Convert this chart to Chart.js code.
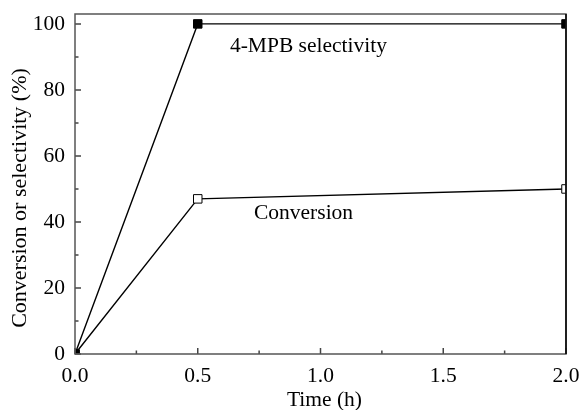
<!DOCTYPE html>
<html>
<head>
<meta charset="utf-8">
<script src="https://cdn.jsdelivr.net/npm/chart.js@4/dist/chart.umd.min.js"></script>
<style>
  html, body { margin: 0; padding: 0; background: #fff; }
  #wrap { width: 581px; height: 410px; }
</style>
</head>
<body>
<div id="wrap"><canvas id="c" width="581" height="410"></canvas></div>
<script>
// ---- data ----
const timeH = [0, 0.5, 2.0];
const selectivity = [0, 100, 100];
const conversion = [0, 47, 50];
const xTickValues = [0, 0.5, 1.0, 1.5, 2.0];
const yTickValues = [0, 20, 40, 60, 80, 100];
const seriesLabels = ['4-MPB selectivity', 'Conversion'];
const xTitle = 'Time (h)';
const yTitle = 'Conversion or selectivity (%)';

const FONT = "'Liberation Serif', 'Times New Roman', serif";

const pts = (ys) => timeH.map((x, i) => ({ x: x, y: ys[i] }));

const annotations = [
  { text: seriesLabels[0], x: 0.631, y: 91.4 },
  { text: seriesLabels[1], x: 0.729, y: 40.8 }
];

const frameAndTicks = {
  id: 'frameAndTicks',
  afterDatasetsDraw(chart) {
    const { ctx, chartArea: a, scales } = chart;
    const xs = scales.x, ys = scales.y;
    ctx.save();
    ctx.strokeStyle = '#444';
    ctx.lineWidth = 1.5;
    ctx.beginPath();
    xTickValues.forEach((v, i) => {
      const px = xs.getPixelForValue(v);
      ctx.moveTo(px, a.bottom); ctx.lineTo(px, a.bottom - 6);
      if (i < xTickValues.length - 1) {
        const mx = xs.getPixelForValue((v + xTickValues[i + 1]) / 2);
        ctx.moveTo(mx, a.bottom); ctx.lineTo(mx, a.bottom - 3.5);
      }
    });
    yTickValues.forEach((v, i) => {
      const py = ys.getPixelForValue(v);
      ctx.moveTo(a.left, py); ctx.lineTo(a.left + 6, py);
      if (i < yTickValues.length - 1) {
        const my = ys.getPixelForValue((v + yTickValues[i + 1]) / 2);
        ctx.moveTo(a.left, my); ctx.lineTo(a.left + 3.5, my);
      }
    });
    ctx.stroke();
    ctx.strokeStyle = '#555';
    ctx.strokeRect(a.left, a.top, a.right - a.left, a.bottom - a.top);
    ctx.strokeStyle = '#000';
    ctx.beginPath();
    ctx.moveTo(a.right, a.top); ctx.lineTo(a.right, a.bottom);
    ctx.stroke();
    ctx.fillStyle = '#000';
    ctx.font = '21.5px ' + FONT;
    ctx.textAlign = 'left';
    ctx.textBaseline = 'alphabetic';
    annotations.forEach(an => {
      ctx.fillText(an.text, xs.getPixelForValue(an.x), ys.getPixelForValue(an.y));
    });
    // axis titles
    ctx.textAlign = 'center';
    ctx.fillText(xTitle, (a.left + a.right) / 2 + 4, 406);
    ctx.font = '22px ' + FONT;
    ctx.translate(26, (a.top + a.bottom) / 2 + 14);
    ctx.rotate(-Math.PI / 2);
    ctx.fillText(yTitle, 0, 0);
    ctx.restore();
  }
};

new Chart(document.getElementById('c'), {
  type: 'line',
  data: {
    datasets: [
      {
        label: seriesLabels[0],
        data: pts(selectivity),
        borderColor: '#000',
        borderWidth: 1.4,
        backgroundColor: '#000',
        pointStyle: 'rect',
        pointRadius: 6,
        pointBorderWidth: 1,
        pointBorderColor: '#000',
        pointBackgroundColor: '#000',
        tension: 0,
        clip: 0
      },
      {
        label: seriesLabels[1],
        data: pts(conversion),
        borderColor: '#000',
        borderWidth: 1.4,
        backgroundColor: '#fff',
        pointStyle: 'rect',
        pointRadius: 6,
        pointBorderWidth: 1,
        pointBorderColor: '#000',
        pointBackgroundColor: '#fff',
        tension: 0,
        clip: 0
      }
    ]
  },
  options: {
    responsive: false,
    animation: false,
    devicePixelRatio: 1,
    layout: { padding: { top: 14, right: 15, left: 0, bottom: 0 } },
    plugins: {
      legend: { display: false },
      tooltip: { enabled: false }
    },
    scales: {
      x: {
        type: 'linear',
        min: 0, max: 2,
        afterBuildTicks: (s) => { s.ticks = xTickValues.map(v => ({ value: v })); },
        afterFit: (s) => { s.height = 56; s.paddingLeft = 0; s.paddingRight = 0; },
        grid: { display: false, drawTicks: false },
        border: { display: false },
        ticks: {
          color: '#000',
          font: { family: FONT, size: 21.5 },
          padding: 9,
          maxRotation: 0,
          callback: (v) => Number(v).toFixed(1)
        },
        title: { display: false, text: xTitle }
      },
      y: {
        type: 'linear',
        min: 0, max: 103,
        afterBuildTicks: (s) => { s.ticks = yTickValues.map(v => ({ value: v })); },
        afterFit: (s) => { s.width = 75; s.paddingTop = 0; s.paddingBottom = 0; },
        grid: { display: false, drawTicks: false },
        border: { display: false },
        ticks: {
          color: '#000',
          font: { family: FONT, size: 21.5 },
          padding: 10,
          callback: (v) => String(v)
        },
        title: { display: false, text: yTitle }
      }
    }
  },
  plugins: [frameAndTicks]
});
</script>
</body>
</html>
